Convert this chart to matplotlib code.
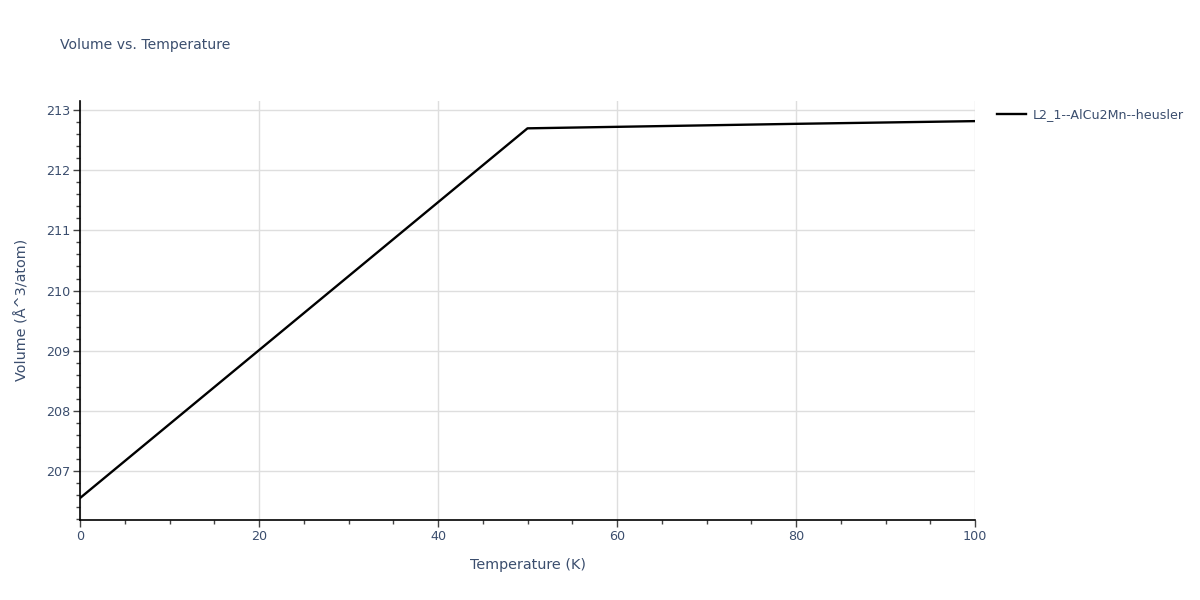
import matplotlib
matplotlib.use("Agg")
import matplotlib.pyplot as plt
from matplotlib.ticker import MultipleLocator

temperature = [0, 50, 80, 100]
volume = [206.545, 212.70, 212.775, 212.82]
series_name = "L2_1--AlCu2Mn--heusler"
x_ticks = [0, 20, 40, 60, 80, 100]
y_ticks = [207, 208, 209, 210, 211, 212, 213]

txt = "#3b4e6e"
plt.rcParams['font.family'] = ['DejaVu Sans']

fig = plt.figure(figsize=(12, 6), dpi=100)
ax = fig.add_axes([80/1200, 1-520/600, 895/1200, (520-100.7)/600])

ax.plot(temperature, volume, color="black", lw=1.7, label=series_name)
ax.set_xlim(0, 100)
ax.set_ylim(206.18, 213.16)
ax.set_xticks(x_ticks)
ax.set_yticks(y_ticks)
ax.xaxis.set_minor_locator(MultipleLocator(5))
ax.yaxis.set_minor_locator(MultipleLocator(0.2))
ax.grid(True, which="major", color="#dedede", lw=1)
ax.set_axisbelow(True)
for s in ["top", "right"]:
    ax.spines[s].set_visible(False)
for s in ["left", "bottom"]:
    ax.spines[s].set_color("black")
    ax.spines[s].set_linewidth(1.2)
ax.tick_params(which="major", direction="out", length=5, width=1, color="#444444",
               labelsize=9.2, labelcolor=txt, pad=2)
ax.tick_params(which="minor", direction="out", length=3, width=1, color="#444444")
ax.set_xlabel("Temperature (K)", fontsize=10.4, color=txt, labelpad=11)
ax.set_ylabel("Volume (Å^3/atom)", fontsize=10.4, color=txt, labelpad=12)

fig.text(60/1200, 1-45/600, "Volume vs. Temperature", fontsize=10.1, color=txt,
         va="center", ha="left")

fig.legend(loc="upper left", bbox_to_anchor=(992/1200, 1-103/600), frameon=False,
           fontsize=9.1, labelcolor=txt, handlelength=2.3, handletextpad=0.5,
           borderaxespad=0)

fig.savefig("out.png", dpi=100)
